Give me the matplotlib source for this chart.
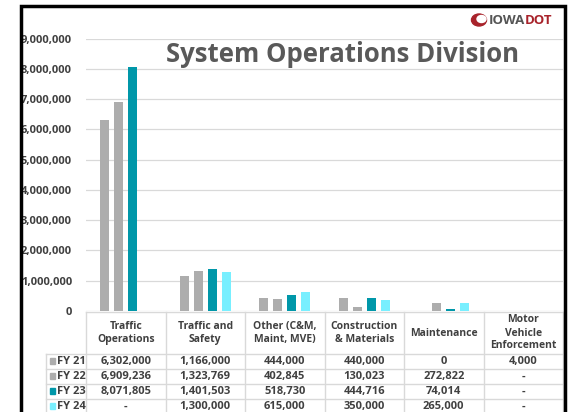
import matplotlib
matplotlib.use("Agg")
import matplotlib.pyplot as plt
import numpy as np
from matplotlib.lines import Line2D
from matplotlib.patches import Rectangle, Ellipse
from matplotlib.transforms import blended_transform_factory
from matplotlib.ticker import FuncFormatter

# --- data ---
categories = ["Traffic\nOperations", "Traffic and\nSafety", "Other (C&M,\nMaint, MVE)",
              "Construction\n& Materials", "Maintenance", "Motor\nVehicle\nEnforcement"]
years = ["FY 21", "FY 22", "FY 23", "FY 24"]
fy21 = [6302000, 1166000, 444000, 440000, 0, 4000]
fy22 = [6909236, 1323769, 402845, 130023, 272822, np.nan]
fy23 = [8071805, 1401503, 518730, 444716, 74014, np.nan]
fy24 = [np.nan, 1300000, 615000, 350000, 265000, np.nan]
series = [fy21, fy22, fy23, fy24]
colors = ["#ADADAD", "#ADADAD", "#0097A9", "#78EFFF"]

W, H = 570, 412
plt.rcParams['font.family'] = ['Open Sans', 'DejaVu Sans']
fig = plt.figure(figsize=(W / 100, H / 100), dpi=100)

def fx(x):
    return x / W

def fy(y):
    return 1 - y / H

ax = fig.add_axes([fx(86), fy(311), fx(563) - fx(86), fy(38.5) - fy(311)])
x = np.arange(len(categories))
pitch, bw = 0.177, 0.114
for i, (vals, c) in enumerate(zip(series, colors)):
    ax.bar(x + (i - 1.5) * pitch, vals, width=bw, color=c, zorder=3)

ax.set_xlim(-0.5, 5.5)
ax.set_ylim(0, 9000000)
ax.set_yticks(np.arange(0, 9000001, 1000000))
ax.yaxis.set_major_formatter(FuncFormatter(lambda v, p: f"{int(v):,}"))
ax.tick_params(axis='y', length=0, pad=10, labelsize=8, labelcolor="#404040")
for lab in ax.get_yticklabels():
    lab.set_fontweight('bold')
ax.set_xticks([])
ax.grid(axis='y', color="#D9D9D9", lw=0.9, zorder=0)
for s in ax.spines.values():
    s.set_visible(False)

# --- title and logo ---
fig.text(fx(342), fy(55), "System Operations Division", ha='center', va='center',
         fontsize=18.5, fontweight='bold', color="#595959")
fig.text(fx(525), fy(20), "IOWA", ha='right', va='center', fontsize=9.5,
         fontweight='bold', color="#555555")
fig.text(fx(525), fy(20), "DOT", ha='left', va='center', fontsize=9.5,
         fontweight='bold', color="#A8232B")
fig.add_artist(Ellipse((fx(479), fy(20)), fx(15), 12 / H, color="#A8232B"))
fig.add_artist(Ellipse((fx(481.5), fy(19)), fx(9), 7 / H, color="white"))

# --- data table ---
tr = blended_transform_factory(ax.transData, fig.transFigure)
line_c = "#D9D9D9"
hdr_bot, row_h = 354, 15.1
rows_y = [hdr_bot + row_h * k for k in range(5)]

fig.add_artist(Line2D([fx(86), fx(563)], [fy(311.5), fy(311.5)], color=line_c, lw=1))
for yy in rows_y:
    fig.add_artist(Line2D([fx(45.7), fx(563)], [fy(yy), fy(yy)], color=line_c, lw=1))
fig.add_artist(Line2D([fx(45.7), fx(45.7)], [fy(hdr_bot), fy(H)], color=line_c, lw=1))
for k in range(len(categories) + 1):
    fig.add_artist(Line2D([k - 0.5, k - 0.5], [fy(311.5), fy(H)], color=line_c, lw=1,
                          transform=tr))

for k, cat in enumerate(categories):
    fig.text(k, fy(333), cat, transform=tr, ha='center', va='center', fontsize=7.5,
             fontweight='bold', color="#404040", linespacing=1.25)

for r, (yr, vals, c) in enumerate(zip(years, series, colors)):
    yc = (rows_y[r] + rows_y[r + 1]) / 2 - 0.5
    fig.add_artist(Rectangle((fx(49.5), fy(yc + 3)), fx(5.5), 6 / H, color=c))
    fig.text(fx(57), fy(yc), yr, ha='left', va='center', fontsize=8,
             fontweight='bold', color="#404040")
    for k, v in enumerate(vals):
        txt = "-" if np.isnan(v) else f"{int(v):,}"
        fig.text(k, fy(yc), txt, transform=tr, ha='center', va='center', fontsize=8,
                 fontweight='bold', color="#404040")

# --- slide border ---
fig.add_artist(Rectangle((0, 0), fx(20), 1, color="white", zorder=20))
fig.add_artist(Rectangle((fx(21), fy(H + 10)), fx(565) - fx(21), fy(6) - fy(H + 10),
                         fill=False, ec="black", lw=2.5, zorder=21))

fig.savefig("out.png", dpi=100)
